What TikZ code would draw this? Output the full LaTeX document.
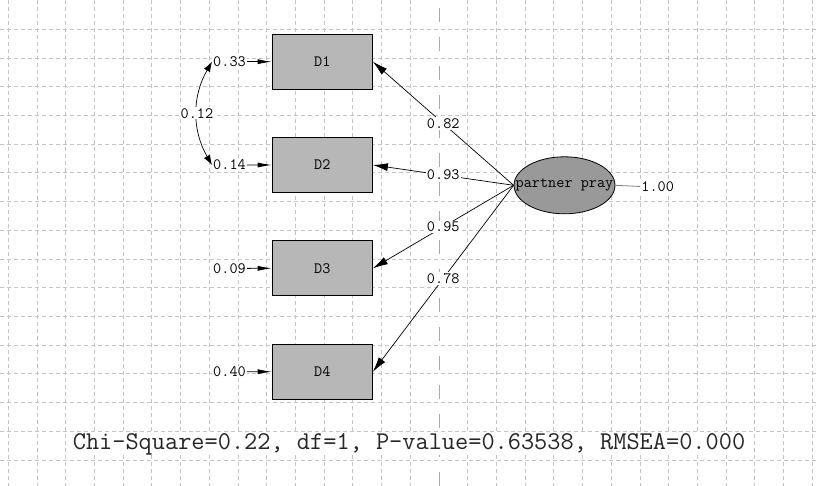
\documentclass[tikz,border=0pt]{standalone}
\usepackage{fontspec}
\usepackage{tikz}
\usetikzlibrary{arrows.meta,shapes.geometric}

\definecolor{gridgray}{RGB}{196,196,196}
\definecolor{midgray}{RGB}{170,170,170}
\definecolor{boxgray}{RGB}{183,183,183}
\definecolor{latgray}{RGB}{153,153,153}
\newcommand{\coeffont}{\ttfamily\fontsize{15.8bp}{17bp}\selectfont}
\newcommand{\fitfont}{\ttfamily\fontsize{25.6bp}{27bp}\selectfont}

\tikzset{
  obs/.style={draw, fill=boxgray, line width=1.2bp, minimum width=100bp,
    minimum height=55bp, inner sep=0pt, font=\coeffont},
  lat/.style={ellipse, draw, fill=latgray, line width=0.8bp, minimum width=101bp,
    minimum height=57bp, inner sep=0pt},
  coef/.style={fill=white, inner sep=1bp, font=\coeffont},
  load/.style={line width=0.7bp, -{Latex[length=15bp,width=8bp]}},
  err/.style={line width=0.8bp, -{Latex[length=14bp,width=5bp]}},
  cov/.style={line width=0.7bp, {Latex[length=10bp,width=7bp]}-{Latex[length=10bp,width=7bp]}},
}

\begin{document}
\begin{tikzpicture}[x=1bp,y=-1bp]
      \useasboundingbox (0,0) rectangle (818,486);
      % grid
      \foreach \i in {0,...,14,16,17,...,28}
      \draw[gridgray, line width=0.8bp, dash pattern=on 4bp off 3bp] (8.3+28.71*\i,0) -- (8.3+28.71*\i,486);
      \foreach \j in {0,...,15}
      \draw[gridgray, line width=0.8bp, dash pattern=on 4bp off 3bp] (0,29.3+28.71*\j) -- (818,29.3+28.71*\j);
      \draw[midgray, line width=0.9bp, dash pattern=on 14bp off 15bp] (439,8) -- (439,486);
      % latent variable and indicators
      \node[lat] (pray) at (564.5,185.3) {};
      \node[font=\coeffont] at (pray) {partner pray};
      \node[obs] (d1) at (322.3,61.7) {D1};
      \node[obs] (d2) at (322.3,165) {D2};
      \node[obs] (d3) at (322.3,268.3) {D3};
      \node[obs] (d4) at (322.3,371.7) {D4};
      \foreach \n/\val in {1/0.33,2/0.14,3/0.09,4/0.40}
      \node[coef] (e\n) at (229.5,{61.7+103.33*(\n-1)}) {\val};
      \foreach \n in {1,...,4}
      \draw[err] (e\n.east) -- (d\n.west);
      % loadings
      \draw[load] (pray.west) -- node[coef] {0.82} (d1.east);
      \draw[load] (pray.west) -- node[coef] {0.93} (d2.east);
      \draw[load] (pray.west) -- node[coef] {0.95} (d3.east);
      \draw[load] (pray.west) -- node[coef] {0.78} (d4.east);
      \node[coef] (var) at (657.7,186.5) {1.00};
      \draw[gray, line width=0.8bp] (pray.east) -- (var.west);
      % error covariance
      \draw[cov] (e1.west) to[bend right=30] node[coef] {0.12} (e2.west);
      % fit
      \node[font=\fitfont, fill=white, inner sep=0pt, text=black!85] (fit) at (409,444)
        {Chi-Square=0.22, df=1, P-value=0.63538, RMSEA=0.000};
\end{tikzpicture}
\end{document}
